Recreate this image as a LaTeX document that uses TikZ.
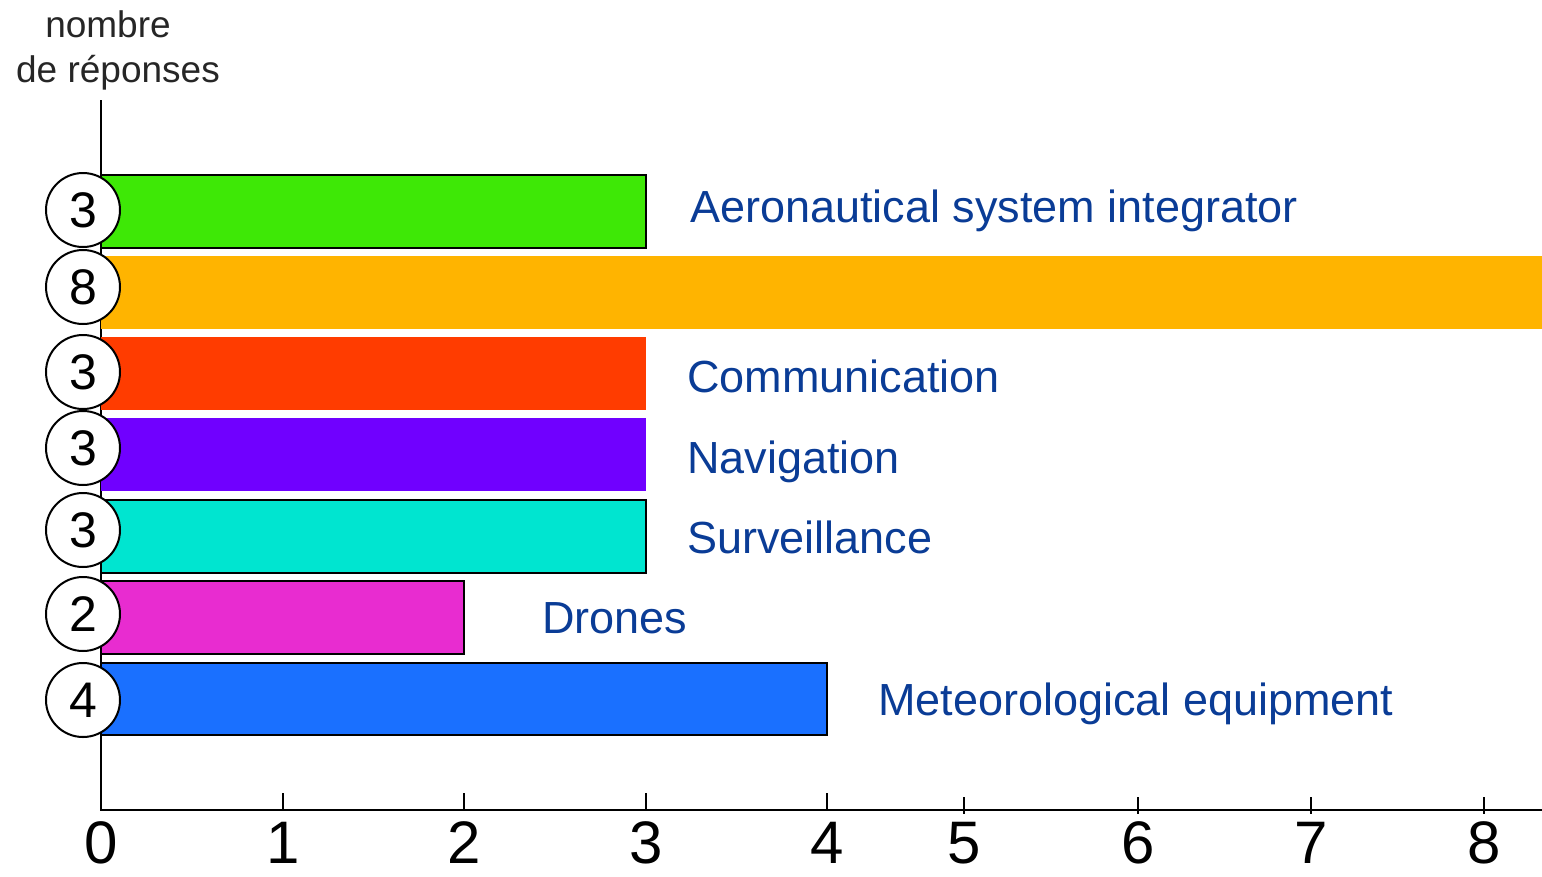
\documentclass[tikz,border=0pt]{standalone}
\usepackage{fontspec}
\setmainfont{Liberation Sans}
\usetikzlibrary{positioning}

\definecolor{barGreen}{HTML}{3EE806}
\definecolor{barOrange}{HTML}{FFB400}
\definecolor{barRed}{HTML}{FF3C00}
\definecolor{barPurple}{HTML}{7000FF}
\definecolor{barTeal}{HTML}{00E5D0}
\definecolor{barMagenta}{HTML}{E82CD0}
\definecolor{barBlue}{HTML}{1A70FF}
\definecolor{labelBlue}{HTML}{0A3C96}

\begin{document}
\begin{tikzpicture}[x=1pt,y=-1pt,
    framedbar/.style={draw=black,line width=2.5pt},
    count/.style={circle,draw=black,fill=white,line width=2pt,minimum size=74pt,inner sep=0pt,font=\fontsize{50}{50}\selectfont},
    catlabel/.style={anchor=base west,inner sep=0pt,text=labelBlue,font=\fontsize{45}{45}\selectfont},
    ticklabel/.style={anchor=base,inner sep=0pt,font=\fontsize{60}{60}\selectfont}]
    \useasboundingbox (0,0) rectangle (1542,876);

    % axes
    \draw[line width=2pt] (101,100) -- (101,810) -- (1542,810);
    \foreach \x in {283,464,646,827} \draw[line width=2pt] (\x,793) -- (\x,810);
    \foreach \x in {964,1138,1311,1484} \draw[line width=2pt] (\x,797) -- (\x,814);
    \foreach \x/\n in {101/0,283/1,464/2,646/3,827/4,964/5,1138/6,1311/7,1484/8}
        \node[ticklabel] (tick\n) at (\x,863) {\n};
    \node[anchor=base,inner sep=0pt,text=black!85,font=\fontsize{37}{37}\selectfont] (ytitleA) at (108,37) {nombre};
    \node[anchor=base,inner sep=0pt,text=black!85,font=\fontsize{37}{37}\selectfont] (ytitleB) at (118,82) {de réponses};

    % bars
    \fill[barOrange] (101,256) rectangle (1542,329);
    \fill[barRed] (101,337) rectangle (646,410);
    \fill[barPurple] (101,418) rectangle (646,491);
    \draw[framedbar,fill=barGreen] (101,175) rectangle (646,248);
    \draw[framedbar,fill=barTeal] (101,500) rectangle (646,573);
    \draw[framedbar,fill=barMagenta] (101,581) rectangle (464,654);
    \draw[framedbar,fill=barBlue] (101,663) rectangle (827,735);

    % counts
    \node[count] (nAero) at (83,210) {3};
    \node[count] (nOther) at (83,287) {8};
    \node[count] (nCom) at (83,372) {3};
    \node[count] (nNav) at (83,448) {3};
    \node[count] (nSurv) at (83,530) {3};
    \node[count] (nDrone) at (83,614) {2};
    \node[count] (nMet) at (83,700) {4};

    % labels
    \node[catlabel] (lAero) at (690,222) {Aeronautical system integrator};
    \node[catlabel] (lCom) at (687,392) {Communication};
    \node[catlabel] (lNav) at (687,473) {Navigation};
    \node[catlabel] (lSurv) at (687,553) {Surveillance};
    \node[catlabel] (lDrone) at (542,633) {Drones};
    \node[catlabel] (lMet) at (878,715) {Meteorological equipment};
\end{tikzpicture}
\end{document}
